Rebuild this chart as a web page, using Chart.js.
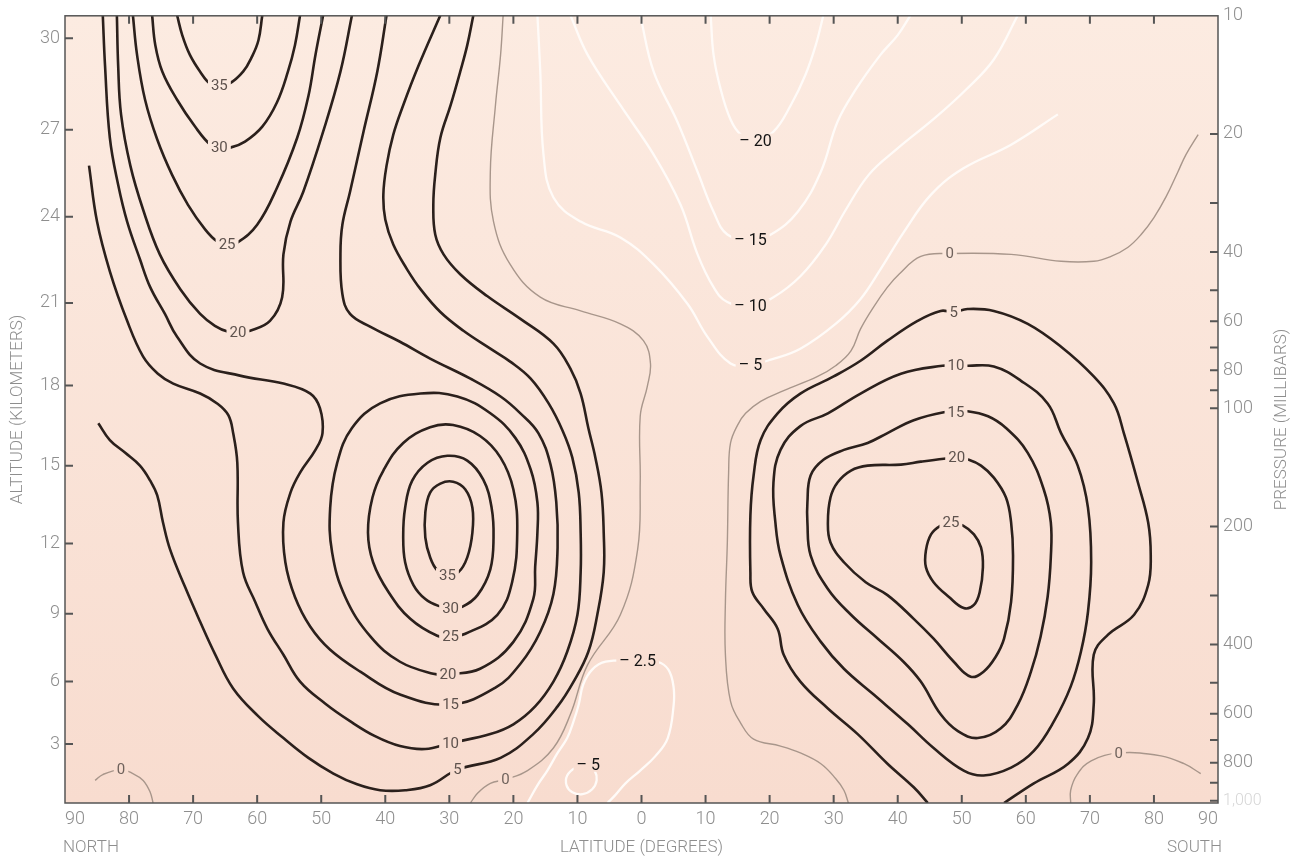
<!DOCTYPE html>
<html>
<head>
<meta charset="utf-8">
<title>Zonal wind cross-section</title>
<script src="https://cdn.jsdelivr.net/npm/chart.js@4.4.1/dist/chart.umd.min.js"></script>
<style>
  html, body { margin: 0; padding: 0; background: #fff; }
  #wrap { width: 1307px; height: 865px; }
</style>
</head>
<body>
<div id="wrap"><canvas id="windChart" width="1307" height="865"></canvas></div>
<script>
// latitude in degrees: negative = north, positive = south
const LATITUDE_TICKS = [-90, -80, -70, -60, -50, -40, -30, -20, -10, 0, 10, 20, 30, 40, 50, 60, 70, 80, 90];
const PRESSURE_TICKS = [10, 20, 30, 40, 50, 60, 70, 80, 90, 100, 200, 300, 400, 500, 600, 700, 800, 900, 1000];
const PRESSURE_LABELS = [10, 20, 40, 60, 80, 100, 200, 400, 600, 800, 1000];
// altitude (km) and the pressure level (mb) it sits at on this chart
const ALTITUDE_KM = [0, 3, 6, 9, 12, 15, 18, 21, 24, 27, 30];
const ALTITUDE_MB = [1013, 717, 497, 334, 221, 140, 87.5, 53.9, 32.5, 19.5, 11.4];

// contour lines as [latitude, altitude km]
const polar35 = [[-72.5,30.75],[-71.7,30.1],[-70.5,29.45],[-68.9,28.9],[-67.3,28.5],[-65.9,28.47],[-64.4,28.5],[-62.2,28.9],[-60.8,29.4],[-59.8,29.93],[-59.2,30.75]];
const polar30 = [[-76.4,30.75],[-75.9,29.77],[-74.8,28.9],[-72.5,27.98],[-69.7,27.1],[-67.3,26.48],[-65.9,26.38],[-64.2,26.38],[-61.9,26.59],[-59.2,27.1],[-56.9,27.9],[-55.2,28.9],[-54.1,29.77],[-53.3,30.75]];
const polar25 = [[-79.4,30.75],[-78.75,29.45],[-77.5,27.98],[-75.6,26.66],[-73.3,25.45],[-70.8,24.41],[-68.1,23.55],[-66.25,23.14],[-64.7,23.03],[-63.1,23.1],[-60.0,23.72],[-56.9,25.0],[-53.75,26.72],[-52.0,28.1],[-50.9,29.45],[-49.7,30.75]];
const polar20 = [[-81.9,30.75],[-81.7,29.1],[-81.25,27.5],[-79.8,25.76],[-77.8,24.24],[-75.2,22.69],[-72.0,21.48],[-68.9,20.6],[-66.6,20.17],[-64.5,19.95],[-63.0,19.92],[-61.1,19.99],[-58.0,20.35],[-56.1,21.2],[-55.9,22.69],[-54.8,23.83],[-52.8,24.86],[-49.7,26.93],[-47.0,28.9],[-45.2,30.75]];
const north15 = [[-84.1,30.75],[-83.75,29.1],[-83.0,26.72],[-81.7,25.1],[-80.3,23.83],[-78.3,22.52],[-76.7,21.55],[-74.4,20.6],[-72.5,19.77],[-68.9,18.8],[-62.7,18.36],[-55.9,18.07],[-51.7,17.7],[-50.2,17.15],[-49.8,16.22],[-50.9,15.59],[-53.3,14.73],[-54.8,13.96],[-55.9,12.81],[-55.6,11.2],[-54.1,9.72],[-51.7,8.43],[-48.6,7.41],[-43.9,6.44],[-37.7,5.38],[-29.8,4.9],[-22.8,5.71],[-18.9,6.79],[-15.8,8.21],[-13.75,9.85],[-13.1,11.83],[-13.3,13.58],[-14.2,15.04],[-16.1,16.22],[-18.9,16.96],[-22.0,17.59],[-26.7,18.25],[-33.0,18.98],[-37.7,19.59],[-42.3,20.13],[-45.5,20.6],[-46.7,21.31],[-47.0,22.69],[-46.7,23.72],[-45.5,24.86],[-43.4,26.93],[-41.25,28.9],[-39.8,30.75]];
const north10 = [[-86.25,25.76],[-85.0,23.83],[-83.0,22.1],[-80.3,20.35],[-77.8,19.05],[-75.5,18.43],[-73.1,18.07],[-68.9,17.7],[-66.25,17.33],[-64.5,16.89],[-63.75,16.22],[-63.1,15.11],[-63.0,12.81],[-62.2,10.77],[-60.3,9.51],[-58.4,8.34],[-55.9,7.19],[-53.3,6.0],[-49.4,4.95],[-45.5,4.1],[-41.6,3.38],[-37.7,2.9],[-33.75,2.75],[-29.8,3.05],[-23.6,3.48],[-20.0,3.95],[-16.6,4.81],[-13.75,6.0],[-11.6,7.32],[-10.0,8.96],[-9.5,10.77],[-9.5,12.42],[-9.8,13.96],[-10.8,15.3],[-12.3,16.3],[-14.5,17.33],[-17.3,18.25],[-20.5,18.87],[-23.6,19.34],[-27.8,19.99],[-31.4,20.67],[-34.5,21.48],[-36.6,22.17],[-38.75,23.03],[-40.0,23.9],[-40.3,24.76],[-39.8,25.76],[-38.75,26.83],[-37.2,27.8],[-34.8,29.1],[-31.4,30.75]];
const north5 = [[-84.8,16.59],[-83.0,15.96],[-80.6,15.48],[-78.3,15.0],[-76.7,14.42],[-75.6,13.85],[-74.7,12.81],[-73.6,11.75],[-71.25,10.14],[-68.9,8.65],[-66.6,7.23],[-63.75,5.67],[-59.8,4.33],[-55.9,3.29],[-52.0,2.3],[-48.1,1.5],[-44.4,0.95],[-40.8,0.65],[-36.9,0.65],[-33.0,0.9],[-28.75,1.7],[-22.0,2.3],[-16.9,3.48],[-13.1,4.81],[-10.6,6.0],[-8.3,7.32],[-6.9,8.96],[-5.9,10.77],[-5.9,12.42],[-6.25,13.96],[-7.2,15.3],[-8.3,16.41],[-9.5,17.7],[-11.1,18.61],[-13.75,19.52],[-18.9,20.42],[-24.1,21.24],[-28.3,22.0],[-30.9,22.69],[-32.2,23.38],[-32.5,24.41],[-32.2,25.45],[-31.4,26.72],[-29.8,27.8],[-28.3,28.9],[-27.2,29.77],[-26.25,30.75]];
const jetN35 = [[-30.3,10.65],[-31.9,10.86],[-33.0,11.41],[-33.75,12.23],[-33.75,13.19],[-33.0,13.96],[-31.4,14.31],[-29.4,14.38],[-27.5,14.08],[-26.4,13.38],[-26.4,12.42],[-27.2,11.41],[-28.6,10.77]];
const jetN30 = [[-29.8,9.25],[-31.7,9.34],[-33.75,9.63],[-35.6,10.23],[-36.9,11.2],[-37.2,12.31],[-36.9,13.38],[-35.8,14.42],[-33.4,15.11],[-30.3,15.37],[-27.2,15.19],[-24.7,14.46],[-23.4,13.38],[-23.1,12.23],[-23.6,10.9],[-25.6,9.8],[-28.0,9.3]];
const jetN25 = [[-29.8,7.99],[-31.9,8.03],[-36.1,8.78],[-39.5,9.93],[-41.9,11.2],[-42.7,12.42],[-42.0,13.77],[-40.3,14.81],[-37.2,15.85],[-33.0,16.44],[-29.4,16.52],[-25.2,16.11],[-22.0,15.3],[-20.0,14.08],[-19.4,12.42],[-20.2,10.35],[-22.5,8.96],[-27.5,8.12]];
const jetN20 = [[-30.2,6.31],[-32.5,6.35],[-37.7,6.88],[-42.3,7.99],[-46.25,9.72],[-48.3,11.62],[-48.6,13.38],[-47.5,15.11],[-45.2,16.41],[-40.8,17.33],[-34.5,17.7],[-28.75,17.59],[-23.6,16.96],[-19.7,16.04],[-17.3,14.85],[-16.25,13.58],[-16.25,12.42],[-16.6,11.0],[-16.9,9.63],[-20.0,7.76],[-25.2,6.57]];
const zeroPoleN = [[-85.3,1.15],[-84.1,1.45],[-81.25,1.7],[-79.4,1.5],[-77.8,1.15],[-76.7,0.55],[-76.25,0]];
const zeroNorth = [[-21.6,30.75],[-22.0,29.45],[-22.8,27.8],[-23.6,25.55],[-23.1,23.83],[-20.5,22.34],[-15.8,21.2],[-9.5,20.71],[-3.3,20.24],[0.3,19.63],[1.4,18.8],[0.9,17.96],[-0.2,16.85],[-0.2,14.35],[-0.6,11.75],[-3.3,8.96],[-8.4,6.75],[-11.1,4.43],[-13.75,2.8],[-17.8,1.65],[-21.25,1.2],[-23.6,1.0],[-25.6,0.5],[-26.7,0]];
const zeroSouth = [[86.9,26.83],[85.0,26.14],[83.75,25.55],[81.9,24.69],[80.0,23.97],[78.0,23.38],[75.9,22.93],[73.3,22.62],[70.6,22.45],[65.5,22.45],[57.7,22.69],[48.1,22.72],[43.6,22.62],[40.2,22.0],[38.4,21.55],[36.25,20.86],[34.2,20.06],[32.7,19.26],[30.3,18.72],[27.5,18.33],[22.2,17.81],[18.6,17.41],[16.25,16.96],[15.0,16.52],[13.9,15.85],[13.6,14.73],[13.4,12.04],[13.1,9.51],[13.1,7.19],[13.9,5.05],[15.5,4.0],[17.5,3.24],[21.7,2.9],[24.8,2.55],[28.0,2.0],[30.3,1.25],[31.6,0.65],[32.3,0]];
const zeroPoleS = [[67.0,0],[67.0,0.65],[68.0,1.45],[70.2,2.15],[74.5,2.55],[81.1,2.4],[84.7,2.0],[87.3,1.5]];
const jetS25 = [[48.3,12.81],[46.7,12.69],[45.2,12.35],[44.4,11.7],[44.4,10.99],[45.6,10.35],[48.0,9.72],[50.3,9.25],[51.9,9.38],[52.8,9.93],[53.3,10.99],[53.0,11.83],[51.9,12.35],[50.2,12.69]];
const jetS20 = [[49.2,15.3],[47.2,15.26],[43.6,15.15],[40.5,15.04],[35.3,15.0],[32.7,14.81],[30.6,14.35],[29.5,13.77],[29.1,12.81],[29.5,12.04],[31.6,11.2],[35.0,10.35],[38.4,9.8],[42.5,8.78],[45.6,7.9],[48.75,6.88],[51.4,6.22],[53.4,6.44],[55.3,7.1],[56.6,7.9],[57.7,9.51],[58.0,11.49],[57.7,12.81],[56.9,13.77],[55.0,14.54],[53.0,15.0],[51.1,15.22]];
const jetS15 = [[49.1,17.0],[47.2,17.0],[42.5,16.7],[38.4,16.22],[35.3,15.85],[31.6,15.59],[28.4,15.22],[26.4,14.62],[25.9,13.58],[25.9,12.81],[26.4,11.49],[29.1,10.06],[32.7,8.96],[36.9,7.9],[40.9,6.88],[43.6,6.0],[46.7,4.43],[49.4,3.62],[52.5,3.29],[56.1,3.76],[58.75,4.9],[60.8,6.44],[62.3,7.99],[63.4,9.72],[63.9,11.41],[63.9,12.81],[62.8,14.08],[60.3,15.48],[56.9,16.41],[54.1,16.85],[50.9,17.04]];
const jetS10 = [[49.1,18.72],[47.0,18.72],[40.5,18.43],[34.2,17.7],[29.1,16.96],[24.8,16.48],[21.7,15.59],[20.6,14.35],[20.9,12.81],[21.7,11.49],[24.4,9.38],[28.0,7.76],[31.6,6.57],[36.25,5.38],[41.6,3.95],[45.6,2.8],[50.3,1.65],[53.4,1.4],[57.7,1.8],[61.25,2.65],[64.4,4.1],[67.0,5.76],[68.6,7.32],[69.7,9.08],[70.2,11.2],[69.7,13.38],[68.1,15.0],[65.5,16.22],[63.4,17.33],[59.2,18.18],[55.0,18.69],[50.9,18.72]];
const jetS5 = [[44.7,0],[42.5,0.8],[38.4,2.0],[33.75,3.48],[29.1,4.71],[24.8,6.0],[22.2,7.19],[21.25,8.34],[19.1,9.21],[17.3,9.93],[17.0,10.77],[17.0,13.08],[17.5,14.62],[18.6,15.96],[21.25,16.96],[24.8,17.7],[30.0,18.33],[34.2,18.9],[38.4,19.63],[43.1,20.35],[46.7,20.71],[48.75,20.67],[50.9,20.78],[55.0,20.71],[60.3,20.24],[65.5,19.41],[70.6,18.33],[73.75,17.33],[75.3,16.22],[77.5,14.35],[79.1,12.81],[79.5,11.49],[79.1,10.23],[76.9,8.96],[72.8,8.07],[70.6,7.19],[70.6,4.9],[69.7,3.29],[66.6,2.0],[61.25,1.0],[56.6,0]];
const easterly20 = [[10.8,30.75],[11.25,29.45],[12.3,28.37],[13.9,27.33],[15.5,26.83],[17.8,26.62],[20.6,26.93],[23.3,27.8],[25.6,28.8],[27.2,29.77],[28.4,30.75]];
const easterly15 = [[-0.2,30.75],[1.9,28.9],[5.6,27.26],[8.75,25.55],[11.25,24.17],[13.4,23.38],[17.0,23.2],[20.2,23.38],[24.4,24.17],[28.0,25.55],[30.6,27.26],[33.4,28.3],[37.3,29.45],[40.0,30.1],[42.0,30.75]];
const easterly10 = [[-11.1,30.75],[-8.4,29.45],[-3.3,27.8],[1.9,26.14],[6.1,24.41],[8.75,22.69],[11.25,21.55],[13.4,21.03],[17.0,20.89],[20.6,21.2],[24.8,21.93],[28.75,23.03],[31.9,24.24],[35.5,25.45],[39.7,26.3],[45.9,27.4],[50.6,28.3],[55.0,29.3],[58.75,30.75]];
const easterly5 = [[-16.25,30.75],[-15.8,28.9],[-15.3,26.14],[-13.75,24.66],[-9.5,23.83],[-3.3,23.28],[1.9,22.34],[7.2,20.96],[10.3,19.77],[13.9,18.8],[17.0,18.76],[20.2,18.94],[24.8,19.34],[30.3,20.24],[34.2,21.14],[37.3,22.17],[40.9,23.45],[45.2,24.76],[50.2,25.66],[57.7,26.48],[65.0,27.5]];
const easterlyLow2_5 = [[-17.8,0],[-16.25,0.9],[-14.7,1.65],[-13.1,2.55],[-11.6,3.29],[-10.6,4.1],[-9.8,4.9],[-9.1,5.86],[-7.7,6.53],[-5.6,6.88],[-0.6,6.93],[2.5,6.88],[4.2,6.53],[5.0,5.76],[5.0,4.81],[4.1,3.29],[2.2,2.4],[-0.2,1.65],[-2.5,1.0],[-4.1,0.4],[-5.3,0]];
const easterlyLow5 = [[-8.3,1.95],[-10.3,1.8],[-11.6,1.4],[-11.7,0.9],[-10.8,0.55],[-9.2,0.45],[-7.7,0.7],[-7.0,1.15],[-7.3,1.65]];

// level (m/s), line, index of the vertex carrying the label, closed ring or not
const contours = [
  { level: 35, line: polar35, label: 5 },
  { level: 30, line: polar30, label: 6 },
  { level: 25, line: polar25, label: 8 },
  { level: 20, line: polar20, label: 10 },
  { level: 15, line: north15, label: 25 },
  { level: 10, line: north10, label: 23 },
  { level: 5, line: north5, label: 20 },
  { level: 35, line: jetN35, label: 0, closed: true },
  { level: 30, line: jetN30, label: 0, closed: true },
  { level: 25, line: jetN25, label: 0, closed: true },
  { level: 20, line: jetN20, label: 0, closed: true },
  { level: 0, line: zeroPoleN, label: 2 },
  { level: 0, line: zeroNorth, label: 20 },
  { level: 0, line: zeroSouth, label: 11 },
  { level: 0, line: zeroPoleS, label: 4 },
  { level: 25, line: jetS25, label: 0, closed: true },
  { level: 20, line: jetS20, label: 0, closed: true },
  { level: 15, line: jetS15, label: 0, closed: true },
  { level: 10, line: jetS10, label: 0, closed: true },
  { level: 5, line: jetS5, label: 21 },
  { level: -20, line: easterly20, label: 5 },
  { level: -15, line: easterly15, label: 6 },
  { level: -10, line: easterly10, label: 8 },
  { level: -5, line: easterly5, label: 10 },
  { level: -2.5, line: easterlyLow2_5, label: 10 },
  { level: -5, line: easterlyLow5, label: 0, closed: true }
];

const STYLES = {
  west: { color: '#2b201c', width: 2.6, text: '#5e524d', font: '15px Roboto, "Liberation Sans", sans-serif' },
  zero: { color: '#a8968b', width: 1.4, text: '#6f625c', font: '15px Roboto, "Liberation Sans", sans-serif' },
  east: { color: '#fffbf8', width: 2.3, text: '#141414', font: '16px Roboto, "Liberation Sans", sans-serif' }
};
const AXIS_COLOR = '#8e8e8e';
const AXIS_FONT = { family: 'Roboto, "Liberation Sans", sans-serif', size: 18, weight: '300' };

// log-linear interpolation of pressure from altitude
function kmToMb(km) {
  let i = 0;
  while (i < ALTITUDE_KM.length - 2 && km > ALTITUDE_KM[i + 1]) i++;
  const t = (km - ALTITUDE_KM[i]) / (ALTITUDE_KM[i + 1] - ALTITUDE_KM[i]);
  const a = Math.log(ALTITUDE_MB[i]), b = Math.log(ALTITUDE_MB[i + 1]);
  return Math.exp(a + (b - a) * t);
}

function kindOf(level) {
  return level > 0 ? 'west' : (level < 0 ? 'east' : 'zero');
}

const datasets = contours.map(c => {
  const pts = c.closed ? c.line.concat([c.line[0]]) : c.line;
  const st = STYLES[kindOf(c.level)];
  return {
    data: pts.map(([lat, km]) => ({ x: lat, y: kmToMb(km) })),
    showLine: true,
    borderColor: st.color,
    borderWidth: st.width,
    pointRadius: 0,
    tension: 0.4,
    fill: false,
    xAxisID: 'x',
    yAxisID: 'y',
    labelIndex: c.label,
    labelText: c.level < 0 ? '\u2013 ' + Math.abs(c.level) : String(c.level),
    kind: kindOf(c.level)
  };
});

const paper = {
  id: 'paper',
  beforeDraw(chart) {
    const { ctx, chartArea: a } = chart;
    const g = ctx.createLinearGradient(0, a.top, 0, a.bottom);
    g.addColorStop(0, '#fcebe1');
    g.addColorStop(1, '#f8dccf');
    chart.$paper = g;
    ctx.save();
    ctx.fillStyle = g;
    ctx.fillRect(a.left, a.top, a.right - a.left, a.bottom - a.top);
    ctx.restore();
  }
};

const contourLabels = {
  id: 'contourLabels',
  afterDatasetsDraw(chart) {
    const ctx = chart.ctx;
    ctx.save();
    chart.data.datasets.forEach((ds, i) => {
      const pt = chart.getDatasetMeta(i).data[ds.labelIndex];
      if (!pt) return;
      const st = STYLES[ds.kind];
      ctx.font = st.font;
      const w = ctx.measureText(ds.labelText).width;
      ctx.fillStyle = chart.$paper;
      ctx.fillRect(pt.x - w / 2 - 3, pt.y - 7, w + 6, 14);
      ctx.fillStyle = st.text;
      ctx.textAlign = 'center';
      ctx.textBaseline = 'middle';
      ctx.fillText(ds.labelText, pt.x, pt.y + 1);
    });
    ctx.restore();
  }
};

const frame = {
  id: 'frame',
  afterDraw(chart) {
    const { ctx, chartArea: a, scales } = chart;
    const len = 8;
    ctx.save();
    ctx.strokeStyle = '#555';
    ctx.lineWidth = 1.5;
    ctx.strokeRect(a.left, a.top, a.right - a.left, a.bottom - a.top);

    // inward tick marks on all four sides
    ctx.lineWidth = 2;
    ctx.beginPath();
    scales.x.ticks.forEach(t => {
      const x = scales.x.getPixelForValue(t.value);
      if (x <= a.left + 1 || x >= a.right - 1) return;
      ctx.moveTo(x, a.bottom); ctx.lineTo(x, a.bottom - len);
      ctx.moveTo(x, a.top); ctx.lineTo(x, a.top + len);
    });
    scales.alt.ticks.forEach(t => {
      const y = scales.alt.getPixelForValue(t.value);
      ctx.moveTo(a.left, y); ctx.lineTo(a.left + len, y);
    });
    scales.y.ticks.forEach(t => {
      const y = scales.y.getPixelForValue(t.value);
      if (y <= a.top + 1) return;
      ctx.moveTo(a.right, y); ctx.lineTo(a.right - len, y);
    });
    ctx.stroke();

    // axis titles
    ctx.fillStyle = AXIS_COLOR;
    ctx.font = '300 17px Roboto, "Liberation Sans", sans-serif';
    ctx.textBaseline = 'middle';
    const yTitle = a.bottom + 45;
    ctx.textAlign = 'left';
    ctx.fillText('NORTH', a.left - 2, yTitle);
    ctx.textAlign = 'center';
    ctx.fillText('LATITUDE (DEGREES)', (a.left + a.right) / 2, yTitle);
    ctx.textAlign = 'right';
    ctx.fillText('SOUTH', a.right + 4, yTitle);

    const midY = (a.top + a.bottom) / 2;
    ctx.textAlign = 'center';
    ctx.save();
    ctx.translate(18, midY);
    ctx.rotate(-Math.PI / 2);
    ctx.fillText('ALTITUDE (KILOMETERS)', 0, 0);
    ctx.restore();
    ctx.save();
    ctx.translate(a.right + 64, midY + 10);
    ctx.rotate(-Math.PI / 2);
    ctx.fillText('PRESSURE (MILLIBARS)', 0, 0);
    ctx.restore();
    ctx.restore();
  }
};

new Chart(document.getElementById('windChart').getContext('2d'), {
  type: 'scatter',
  data: { datasets },
  options: {
    responsive: false,
    animation: false,
    events: [],
    layout: { padding: { top: 10, left: 0, right: 0, bottom: 0 } },
    plugins: { legend: { display: false }, tooltip: { enabled: false } },
    scales: {
      x: {
        type: 'linear',
        position: 'bottom',
        min: -90,
        max: 90,
        grid: { display: false, drawTicks: false },
        border: { display: false },
        afterBuildTicks: s => { s.ticks = LATITUDE_TICKS.map(v => ({ value: v })); },
        afterFit: s => { s.height = 62; },
        ticks: {
          autoSkip: false,
          maxRotation: 0,
          align: 'inner',
          padding: 6,
          color: AXIS_COLOR,
          font: AXIS_FONT,
          callback: v => Math.abs(v)
        }
      },
      alt: {
        type: 'logarithmic',
        position: 'left',
        reverse: true,
        min: 10,
        max: 1013,
        grid: { display: false, drawTicks: false },
        border: { display: false },
        afterBuildTicks: s => {
          s.ticks = ALTITUDE_MB.slice(1).map(v => ({ value: v }));
        },
        afterFit: s => { s.width = 65; },
        ticks: {
          autoSkip: false,
          padding: 5,
          color: AXIS_COLOR,
          font: AXIS_FONT,
          callback: (v, i) => ALTITUDE_KM[i + 1]
        }
      },
      y: {
        type: 'logarithmic',
        position: 'right',
        reverse: true,
        min: 10,
        max: 1013,
        grid: { display: false, drawTicks: false },
        border: { display: false },
        afterBuildTicks: s => { s.ticks = PRESSURE_TICKS.map(v => ({ value: v })); },
        afterFit: s => { s.width = 89; },
        ticks: {
          autoSkip: false,
          padding: 5,
          color: c => (c.tick && c.tick.value === 1000 ? '#d6d6d6' : AXIS_COLOR),
          font: c => (c.tick && c.tick.value === 1000 ? Object.assign({}, AXIS_FONT, { size: 16 }) : AXIS_FONT),
          callback: v => (PRESSURE_LABELS.includes(v) ? (v === 1000 ? '1,000' : String(v)) : '')
        }
      }
    }
  },
  plugins: [paper, contourLabels, frame]
});
</script>
</body>
</html>
